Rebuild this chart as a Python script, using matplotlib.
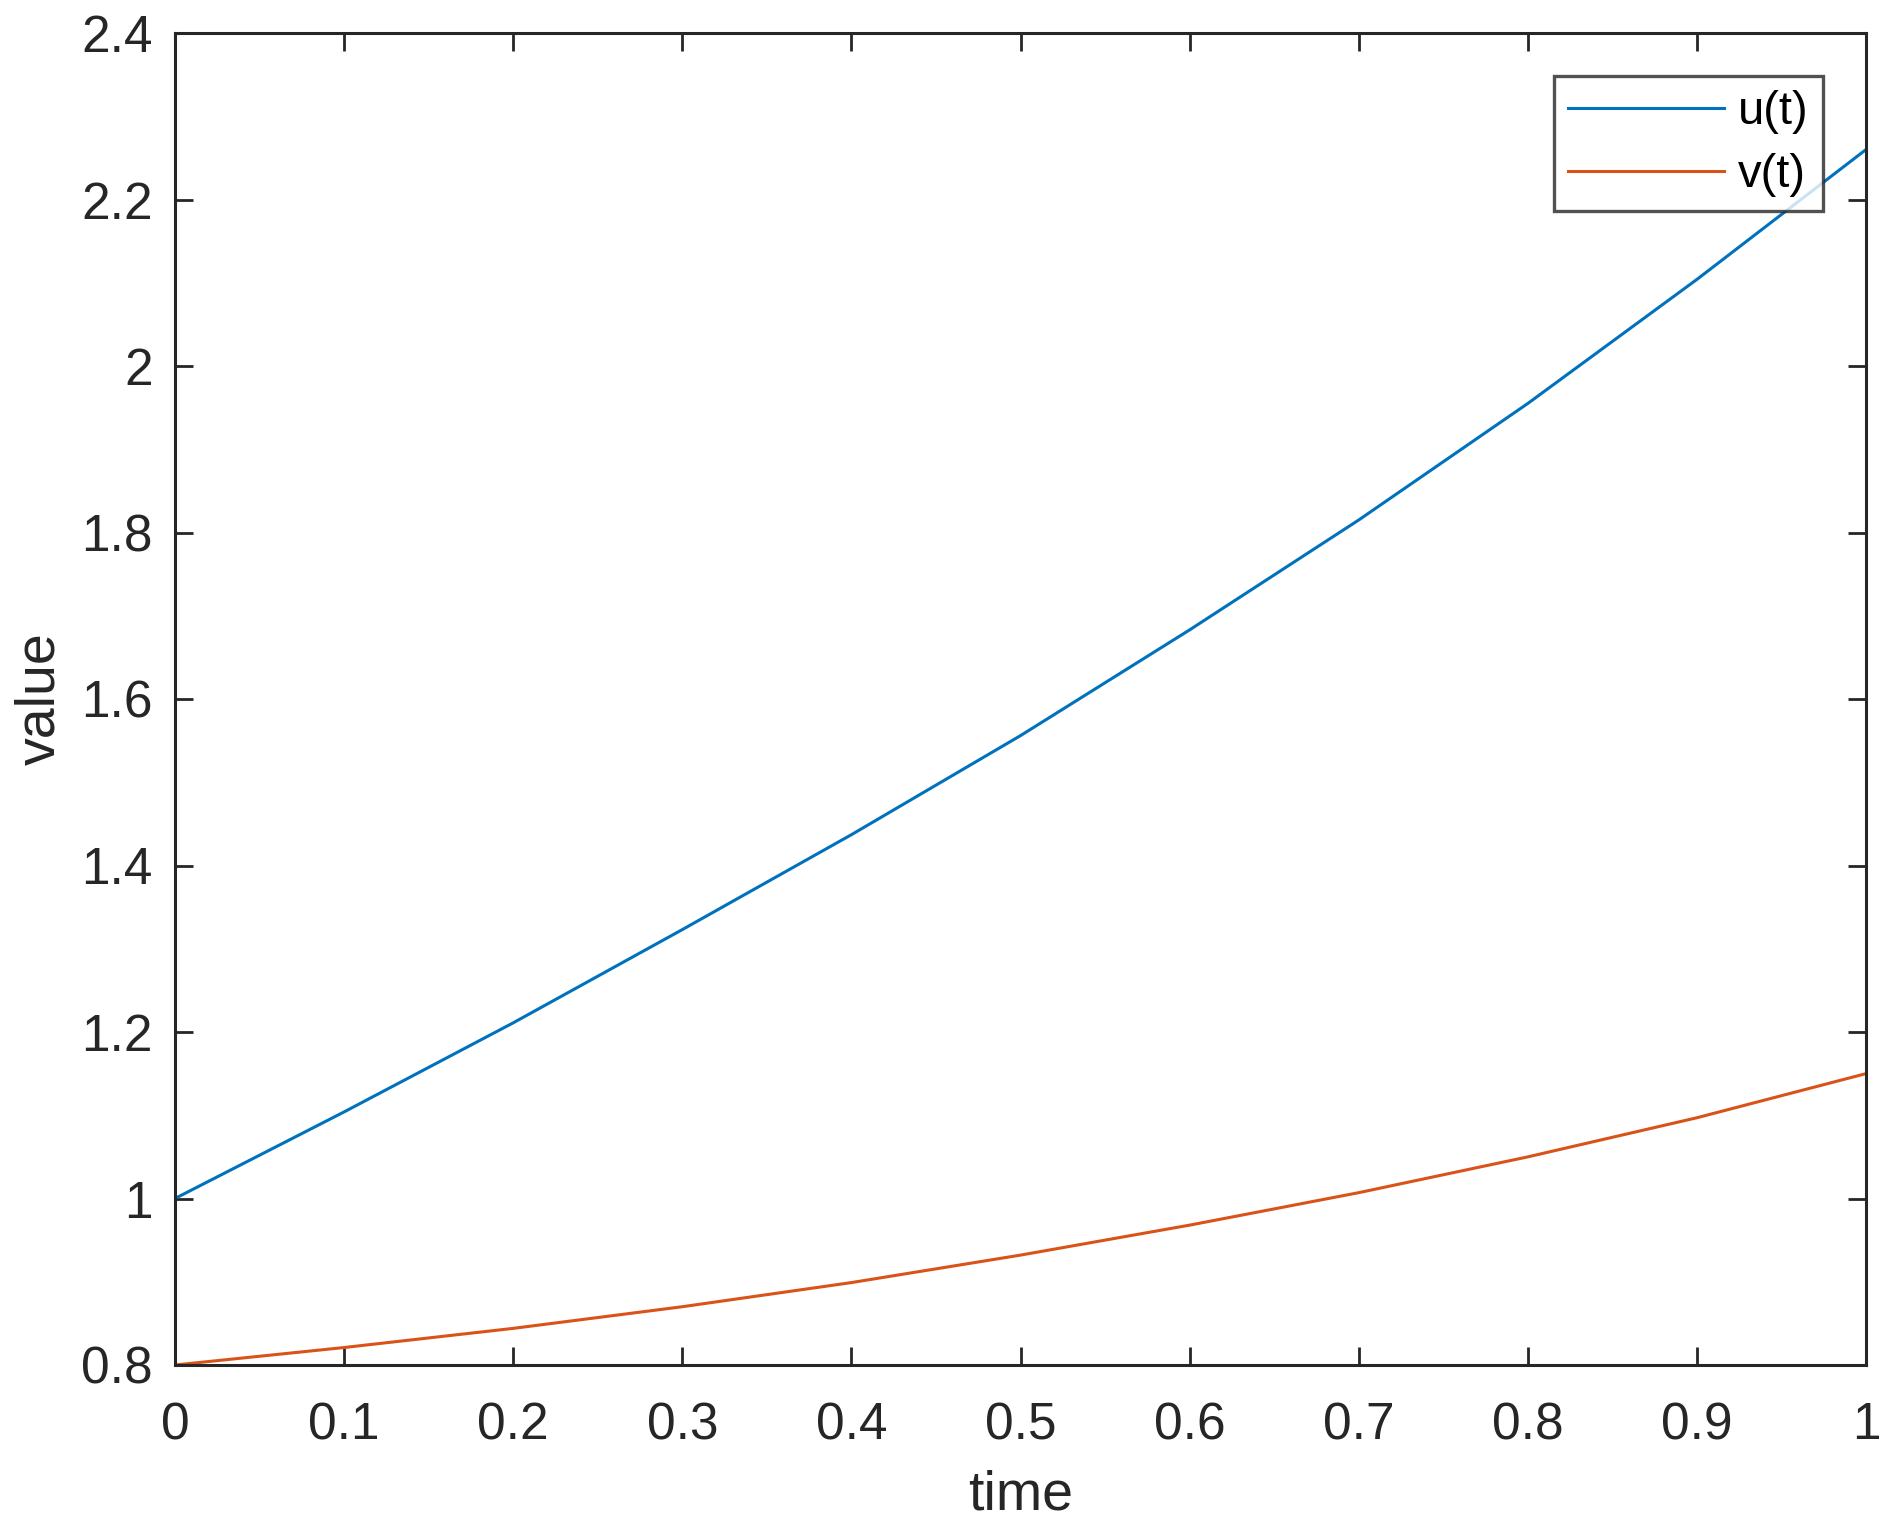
import matplotlib
matplotlib.use('Agg')
import matplotlib.pyplot as plt
import numpy as np

# values
t = [0.0, 0.1, 0.2, 0.3, 0.4, 0.5, 0.6, 0.7, 0.8, 0.9, 1.0]
u = [1.000, 1.104, 1.211, 1.323, 1.437, 1.556, 1.683, 1.815, 1.955, 2.104, 2.260]
v = [0.800, 0.821, 0.844, 0.870, 0.899, 0.932, 0.968, 1.007, 1.050, 1.097, 1.150]
labels = ['u(t)', 'v(t)']
colors = ['#0072BD', '#D95319']
xticks = np.arange(0, 1.01, 0.1)
yticks = np.arange(0.8, 2.41, 0.2)

plt.rcParams['font.family'] = ['Liberation Sans', 'DejaVu Sans']
ink = '#262626'

fig = plt.figure(figsize=(18.96, 15.36), dpi=100)
ax = fig.add_axes([175/1896, 1 - 1365/1536, (1866-175)/1896, (1365-33)/1536])

ax.plot(t, u, color=colors[0], lw=2.2, label=labels[0])
ax.plot(t, v, color=colors[1], lw=2.2, label=labels[1])

ax.set_xlim(0, 1)
ax.set_ylim(0.8, 2.4)
ax.set_xticks(xticks)
ax.set_yticks(yticks)
ax.set_xticklabels(['0'] + [f'{x:.1f}' for x in xticks[1:-1]] + ['1'])
ax.set_yticklabels([f'{y:g}' for y in np.round(yticks, 1)])
ax.tick_params(direction='in', length=13, width=2, colors=ink, labelsize=37,
               top=True, right=True)
ax.tick_params(axis='x', pad=26)
ax.tick_params(axis='y', pad=16)
for s in ax.spines.values():
    s.set_color(ink)
    s.set_linewidth(2.2)

ax.set_xlabel('time', fontsize=40, color=ink, labelpad=14)
ax.set_ylabel('value', fontsize=40, color=ink, labelpad=11)

leg = ax.legend(loc='upper right', bbox_to_anchor=(0.9746, 0.9677), fontsize=34,
                frameon=True, fancybox=False, handlelength=3.3, handletextpad=0.3,
                labelspacing=0.4, borderpad=0.3, borderaxespad=0)
leg.get_frame().set_edgecolor(ink)
leg.get_frame().set_linewidth(2.4)
for line in leg.get_lines():
    line.set_linewidth(2.2)

fig.savefig('out.png', dpi=100)
